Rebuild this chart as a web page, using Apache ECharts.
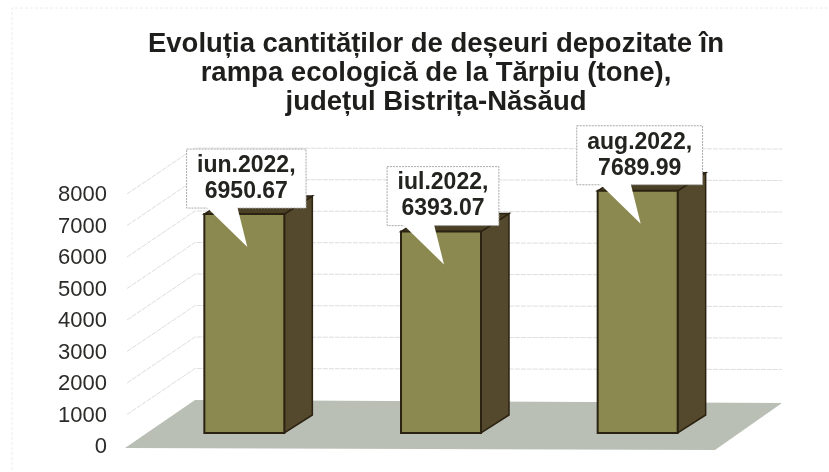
<!DOCTYPE html>
<html>
<head>
<meta charset="utf-8">
<style>html,body{margin:0;padding:0;background:#fff}#c{width:829px;height:472px}</style>
<script src="https://cdn.jsdelivr.net/npm/echarts@6/dist/echarts.min.js"></script>
</head>
<body>
<div id="c"></div>
<script>
const categories = ['iun.2022', 'iul.2022', 'aug.2022'];
const values = [6950.67, 6393.07, 7689.99];
const gridTicks = [1000, 2000, 3000, 4000, 5000, 6000, 7000, 8000];
const titleLines = ['Evoluția cantităților de deșeuri depozitate în', 'rampa ecologică de la Tărpiu (tone),', 'județul Bistrița-Năsăud'];

const labelFont = 'bold 23px "Liberation Sans", Arial, sans-serif';
const measure = document.createElement('canvas').getContext('2d');
measure.font = labelFont;

const WALL_DX = 70, WALL_DY = 47;      // depth of the floor / side wall
const BAR_SHIFT_X = 21, BAR_SHIFT_Y = 14; // bar front offset from the front edge
const BAR_DX = 28, BAR_DY = 18;        // bar depth
const BAR_W = 80;

function wallItem(params, api) {
  const cs = params.coordSys;
  const y = api.coord([0, api.value(1)])[1];
  return {
    type: 'polyline',
    shape: { points: [[cs.x + 2, y - 1], [cs.x + WALL_DX, y - WALL_DY], [cs.x + cs.width + WALL_DX - 3, y - WALL_DY + 1]] },
    style: { fill: 'none', stroke: '#dededc', lineWidth: 1, lineDash: [5, 1] }
  };
}
function floorItem(params, api) {
  const cs = params.coordSys;
  const y = api.coord([0, 0])[1];
  return {
    type: 'polygon',
    shape: { points: [[cs.x, y + 1], [cs.x + WALL_DX, y - WALL_DY], [cs.x + cs.width + WALL_DX - 3, y - WALL_DY + 3], [cs.x + cs.width, y + 3]] },
    style: { fill: '#b9bfb5' }
  };
}
function barItem(params, api) {
  const top = api.coord([api.value(0), api.value(1)]);
  const base = api.coord([api.value(0), 0]);
  const x0 = top[0] + BAR_SHIFT_X - BAR_W / 2, x1 = x0 + BAR_W;
  const yt = top[1] - BAR_SHIFT_Y, yb = base[1] - BAR_SHIFT_Y;
  const edge = '#2b2212';
  return {
    type: 'group',
    children: [
      { type: 'polygon', shape: { points: [[x1, yt], [x1 + BAR_DX, yt - BAR_DY], [x1 + BAR_DX, yb - BAR_DY], [x1, yb]] },
        style: { fill: '#54492c', stroke: edge, lineWidth: 1.5 } },
      { type: 'polygon', shape: { points: [[x0, yt], [x0 + BAR_DX, yt - BAR_DY], [x1 + BAR_DX, yt - BAR_DY], [x1, yt]] },
        style: { fill: '#4a4026', stroke: edge, lineWidth: 1.5 } },
      { type: 'rect', shape: { x: x0, y: yt, width: BAR_W, height: yb - yt },
        style: { fill: '#8b8950', stroke: edge, lineWidth: 2 } }
    ]
  };
}
function calloutItem(params, api) {
  const i = api.value(0), v = api.value(1);
  const top = api.coord([i, v]);
  const cx = top[0] + BAR_SHIFT_X, yt = top[1] - BAR_SHIFT_Y;
  const l1 = categories[i] + ',', l2 = v.toFixed(2);
  const w = Math.max(measure.measureText(l1).width, measure.measureText(l2).width) + 21;
  const bx = cx + 2 - w / 2, bt = yt - 65, bb = yt - 6;
  return {
    type: 'group',
    children: [
      { type: 'rect', shape: { x: bx, y: bt, width: w, height: bb - bt },
        style: { fill: '#ffffff', stroke: '#a8a8a8', lineWidth: 1, lineDash: [2, 1] } },
      { type: 'polygon', shape: { points: [[cx - 38, bb - 1], [cx + 3, yt + 33], [cx - 7, bb - 1]] },
        style: { fill: '#ffffff' } },
      { type: 'text', style: { x: cx + 2, y: (bt + bb) / 2, text: l1 + '\n' + l2, font: labelFont,
          lineHeight: 26, fill: '#23231f', align: 'center', verticalAlign: 'middle' } }
    ]
  };
}

const chart = echarts.init(document.getElementById('c'), null, { renderer: 'canvas' });
chart.setOption({
  animation: false,
  backgroundColor: '#ffffff',
  title: {
    text: titleLines.join('\n'),
    left: 431, top: 25, textAlign: 'center',
    textStyle: { fontFamily: '"Liberation Sans", Arial, sans-serif', fontWeight: 'bold', fontSize: 27.5, lineHeight: 29, color: '#1e1e1c' }
  },
  graphic: [
    { type: 'polyline', silent: true, shape: { points: [[12, 470], [12, 8], [829, 8]] },
      style: { fill: 'none', stroke: '#ececec', lineWidth: 1, lineDash: [3, 2] } }
  ],
  grid: { left: 125, width: 590, top: 195, height: 252 },
  xAxis: { type: 'category', data: categories, show: false },
  yAxis: {
    type: 'value', min: 0, max: 8000, interval: 1000,
    axisLine: { show: false }, axisTick: { show: false }, splitLine: { show: false },
    axisLabel: { margin: 18, fontSize: 22, color: '#2b2b29', fontFamily: '"Liberation Sans", Arial, sans-serif', formatter: v => String(v) }
  },
  series: [
    { type: 'custom', z: 1, silent: true, renderItem: wallItem, data: gridTicks.map(t => [0, t]), encode: { x: 0, y: 1 } },
    { type: 'custom', z: 2, silent: true, renderItem: floorItem, data: [[0, 0]], encode: { x: 0, y: 1 } },
    { type: 'custom', z: 3, silent: true, renderItem: barItem, data: values.map((v, i) => [i, v]), encode: { x: 0, y: 1 } },
    { type: 'custom', z: 4, silent: true, renderItem: calloutItem, data: values.map((v, i) => [i, v]), encode: { x: 0, y: 1 } }
  ]
});
</script>
</body>
</html>
